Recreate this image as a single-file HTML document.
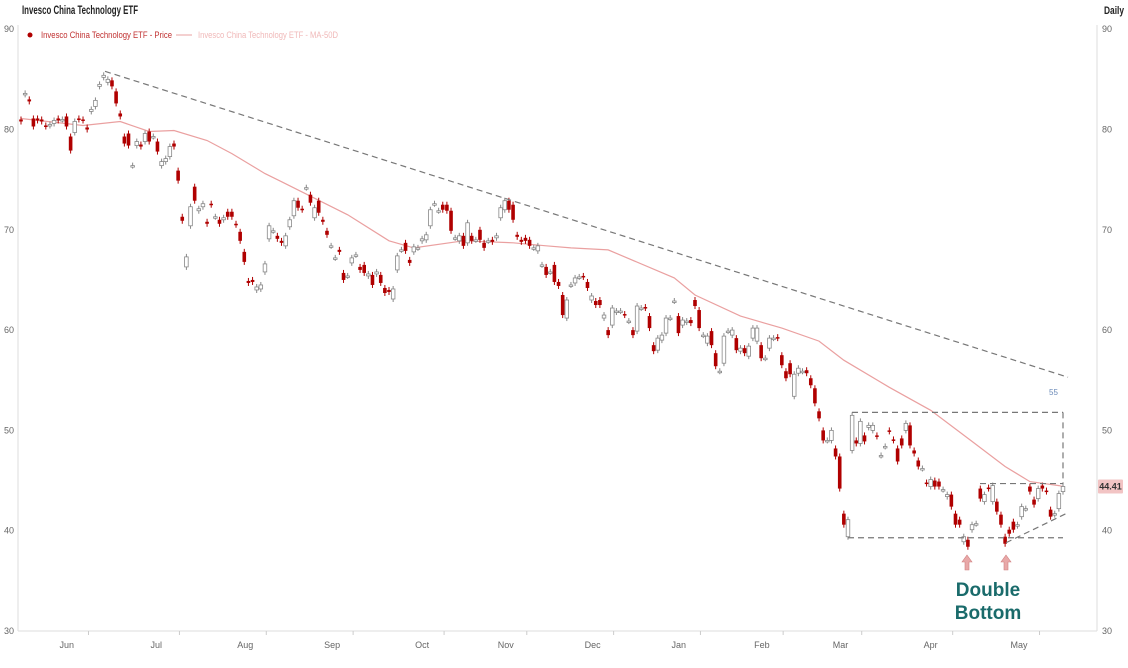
<!DOCTYPE html>
<html><head><meta charset="utf-8"><style>
html,body{margin:0;padding:0;background:#fff;}
svg{display:block;font-family:"Liberation Sans",sans-serif;}
</style></head><body>
<svg id="chart" width="1128" height="668" viewBox="0 0 1128 668" xmlns="http://www.w3.org/2000/svg">
<text x="22" y="14" font-size="12" font-weight="bold" fill="#222" textLength="116" lengthAdjust="spacingAndGlyphs">Invesco China Technology ETF</text>
<text x="1104" y="14" font-size="11" font-weight="bold" fill="#222" textLength="20" lengthAdjust="spacingAndGlyphs">Daily</text>
<g>
<circle cx="30" cy="35" r="2.5" fill="#b00000"/>
<text x="41" y="38" font-size="9" fill="#c03030" textLength="131" lengthAdjust="spacingAndGlyphs">Invesco China Technology ETF - Price</text>
<line x1="176" y1="35" x2="192" y2="35" stroke="#e8a0a0" stroke-width="1"/>
<text x="198" y="38" font-size="9" fill="#f0b8b8" textLength="140" lengthAdjust="spacingAndGlyphs">Invesco China Technology ETF - MA-50D</text>
</g>
<g id="axes"></g>
<g id="ma"></g>
<g id="candles"></g>
<g id="annot"></g>
</svg>
<script>
const opens=[81.0,83.5,83.0,81.1,81.1,81.0,80.4,80.4,80.6,81.1,81.0,81.3,79.3,79.7,81.1,81.0,80.2,81.8,82.3,84.3,85.2,84.7,84.9,83.8,81.6,79.3,79.6,76.4,78.4,78.5,78.8,79.8,79.3,78.8,76.4,76.8,77.3,78.6,75.9,71.3,66.3,70.4,74.3,71.9,72.3,70.8,72.6,71.3,71.0,71.0,71.8,71.8,70.6,69.8,67.8,64.9,65.0,64.0,64.1,65.8,69.1,69.9,69.4,68.9,68.4,70.3,71.4,72.9,72.1,74.2,73.5,71.2,72.9,71.0,69.9,68.4,67.2,68.0,65.7,65.4,66.7,67.5,66.3,66.5,65.4,65.5,65.6,65.5,64.2,64.0,63.1,66.0,68.0,68.7,67.0,67.8,68.2,68.9,69.0,70.4,72.6,71.9,72.5,72.5,71.9,69.2,68.9,69.4,68.7,69.4,69.0,70.0,68.7,68.9,69.0,69.2,71.2,72.0,72.9,72.5,69.5,69.0,69.2,69.0,68.2,67.9,66.5,66.3,65.8,66.5,64.8,63.5,61.2,64.5,64.7,65.3,65.4,64.8,63.0,62.9,63.0,61.2,60.0,60.5,61.8,61.9,61.6,60.9,60.0,59.9,62.2,62.3,61.4,58.5,58.0,59.0,59.7,61.2,62.9,61.4,60.5,60.8,61.0,63.0,62.0,59.5,58.7,59.9,57.7,55.9,56.7,59.9,59.5,59.2,57.9,58.2,57.4,59.2,58.9,58.5,57.2,58.2,59.2,59.3,57.5,55.9,56.7,53.4,55.7,55.9,56.0,55.2,54.2,51.9,50.0,49.0,49.0,48.2,47.4,41.7,39.4,48.0,49.0,48.7,49.5,50.3,50.0,49.5,47.5,48.4,50.0,49.1,48.2,49.2,50.0,50.5,48.0,47.0,46.2,44.8,44.4,45.0,44.9,44.1,43.4,43.6,41.7,41.1,38.9,39.1,40.1,40.7,44.2,42.9,44.3,42.9,42.9,41.6,39.4,40.1,40.9,40.5,41.4,42.2,44.4,43.1,43.2,44.5,44.0,42.1,41.6,42.2,43.9];
const closes=[80.8,83.6,82.8,80.3,80.9,80.8,80.3,80.5,80.9,80.9,81.0,80.3,77.9,80.8,81.0,80.9,80.0,82.0,82.9,84.5,85.4,85.0,84.3,82.6,81.3,78.6,78.4,76.4,78.8,78.3,79.6,78.8,79.3,77.8,76.8,77.1,78.3,78.3,74.9,70.9,67.3,72.3,72.9,72.1,72.6,70.6,72.5,71.3,70.6,71.2,71.3,71.3,70.5,68.9,66.8,64.7,64.8,64.3,64.5,66.6,70.4,69.9,69.1,68.7,69.4,71.0,72.9,72.2,72.0,74.2,72.7,72.2,71.7,70.8,69.5,68.4,67.2,67.8,65.0,65.4,67.2,67.5,66.0,65.7,65.6,64.5,65.8,64.7,63.7,63.8,64.1,67.4,68.0,67.9,66.7,68.3,68.2,69.1,69.5,72.0,72.6,71.9,72.0,71.9,69.9,69.2,69.4,68.4,70.7,68.9,69.0,69.0,68.2,68.9,68.8,69.4,72.2,72.9,72.0,71.0,69.3,68.8,68.9,68.4,68.2,68.4,66.5,65.5,65.8,64.8,64.4,61.5,63.0,64.5,65.2,65.3,65.3,64.2,63.4,62.5,62.5,61.5,59.5,62.2,61.9,61.9,61.5,60.9,59.5,62.4,62.2,62.2,60.2,57.9,59.2,59.5,61.2,61.2,62.9,59.7,61.0,60.9,60.7,62.4,60.2,59.5,59.4,58.5,56.4,55.9,59.4,59.9,60.0,58.0,58.2,57.7,58.4,60.2,60.2,57.2,57.2,59.2,59.2,59.2,56.5,55.2,55.6,55.6,56.2,55.9,55.7,54.5,52.7,51.2,49.0,49.0,50.0,47.4,44.2,40.6,41.1,51.5,48.7,50.9,48.9,50.5,50.5,49.4,47.5,48.4,49.9,49.0,46.9,48.5,50.7,48.5,47.7,46.4,46.2,44.7,45.1,44.4,44.4,44.1,43.6,42.4,40.6,40.6,39.4,38.4,40.6,40.7,43.2,43.6,44.2,44.5,41.9,40.6,38.7,39.7,40.1,40.6,42.4,42.2,43.9,42.6,44.2,44.2,43.9,41.4,41.7,43.7,44.41];
const maIndex=[0,15,24,31,37,45,51,59,63,79,89,95,107,119,127,133,142,158,163,174,184,193,199,210,220,230,238,244,251,252];
const maValues=[81.1,80.4,80.8,79.8,79.9,78.9,77.6,75.6,74.8,71.5,68.9,68.2,68.9,68.7,68.4,68.2,68.0,65.2,63.5,61.4,60.2,58.9,57.0,54.3,52.0,48.9,46.4,44.9,44.5,44.4];
const yTicks=[30,40,50,60,70,80,90];
const months=["Jun","Jul","Aug","Sep","Oct","Nov","Dec","Jan","Feb","Mar","Apr","May"];
const monthStartIndex=[11,33,54,75,97,117,138,159,179,198,220,241];
const lastPrice=44.41;

const NS="http://www.w3.org/2000/svg";
const X0=21, STEP=(1063-21)/252;
function xs(i){return X0+i*STEP;}
function ys(v){return 631-(v-30)*10.03;}
function mk(tag,attrs,parent){const e=document.createElementNS(NS,tag);for(const k in attrs)e.setAttribute(k,attrs[k]);parent.appendChild(e);return e;}

const axes=document.getElementById('axes');
let e;
e=mk('line',{x1:18,y1:25,x2:18,y2:631,stroke:'#ddd','stroke-width':1},axes);


e=mk('line',{x1:1097,y1:25,x2:1097,y2:631,stroke:'#ddd','stroke-width':1},axes);


e=mk('line',{x1:18,y1:631,x2:1097,y2:631,stroke:'#ddd','stroke-width':1},axes);


yTicks.forEach(v=>{
  const y=ys(v);
  let t=mk('text',{x:4,y:y+3,'font-size':9,fill:'#666'},axes);t.textContent=v;
  
  
  t=mk('text',{x:1102,y:y+3,'font-size':9,fill:'#666'},axes);t.textContent=v;
  
  
});
months.forEach((m,k)=>{
  const x=xs(monthStartIndex[k]);
  let t=mk('text',{x:x-7,y:648,'font-size':9,fill:'#666'},axes);t.textContent=m;
  
  
  const tk=mk('line',{x1:x+22,y1:631,x2:x+22,y2:635,stroke:'#ccc'},axes);
  
  
});

// MA line
const ma=document.getElementById('ma');
let d='';
maIndex.forEach((ix,k)=>{d+=(k?'L':'M')+xs(ix).toFixed(1)+' '+ys(maValues[k]).toFixed(1);});
e=mk('path',{d:d,fill:'none',stroke:'#eaa0a0','stroke-width':1.2},ma);



// Candles
const cg=document.getElementById('candles');
opens.forEach((o,i)=>{
  const c=closes[i], x=xs(i);
  const up=c>=o;
  const col=up?'#888':'#b00000';
  const hi=Math.max(o,c), lo=Math.min(o,c);
  const g=mk('g',{},cg);
  
  
  mk('line',{x1:x,y1:ys(hi)-3,x2:x,y2:ys(lo)+3,stroke:col,'stroke-width':1},g);
  const h=Math.max(ys(lo)-ys(hi),1.5);
  mk('rect',{x:x-1.8,y:ys(hi),width:3.6,height:h,fill:up?'#fff':'#b00000',stroke:col,'stroke-width':up?0.8:0},g);
});

// Annotations
const an=document.getElementById('annot');
function dl(x1,y1,x2,y2,name){const l=mk('line',{x1:x1,y1:y1,x2:x2,y2:y2,stroke:'#777','stroke-width':1.2,'stroke-dasharray':'6,4'},an);}
dl(105,ys(85.8),1068,ys(55.3),'resistance-trendline');
dl(852,ys(51.8),1063,ys(51.8),'range-top-line');
dl(848,ys(39.3),1063,ys(39.3),'support-line');
dl(980,ys(44.7),1063,ys(44.7),'neckline');
dl(1063,ys(51.8),1063,ys(44.7),'range-right-edge');
dl(1006,ys(38.8),1066,ys(41.7),'rising-support-line');
[967,1006].forEach((x,k)=>{
  const a=mk('path',{d:`M${x} 555 L${x+5} 562 L${x+2} 562 L${x+2} 570 L${x-2} 570 L${x-2} 562 L${x-5} 562 Z`,fill:'#e8a8a8',stroke:'#d08080','stroke-width':0.6},an);
  
  
});
let t=mk('text',{x:988,y:596,'font-size':19,'font-weight':'bold',fill:'#1a6b6b','text-anchor':'middle'},an);t.textContent='Double';


t=mk('text',{x:988,y:619,'font-size':19,'font-weight':'bold',fill:'#1a6b6b','text-anchor':'middle'},an);t.textContent='Bottom';


t=mk('text',{x:1049,y:395,'font-size':8,fill:'#6a8ab8'},an);t.textContent='55';


const r=mk('rect',{x:1098,y:ys(lastPrice)-7,width:25,height:14,fill:'#f2c4c4',rx:1},an);


t=mk('text',{x:1110.5,y:ys(lastPrice)+3,'font-size':9,'font-weight':'bold',fill:'#333','text-anchor':'middle'},an);t.textContent=lastPrice.toFixed(2);


</script>
</body></html>
